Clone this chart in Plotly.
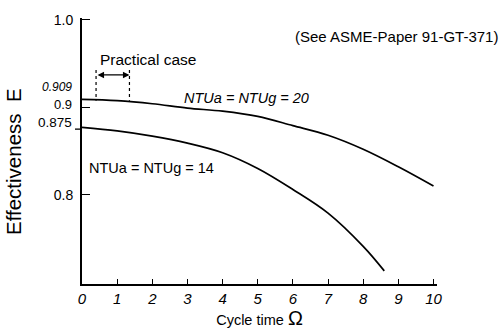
import plotly.graph_objects as go

# Data
cycle_time = [0, 1, 2, 3, 4, 5, 6, 7, 8, 9, 10]
eff_ntu20 = [0.909, 0.9075, 0.904, 0.899, 0.8955, 0.8895, 0.879, 0.868, 0.852, 0.832, 0.810]
cycle_time_14 = [0, 1, 2, 3, 4, 5, 6, 7, 8, 8.6]
eff_ntu14 = [0.877, 0.873, 0.867, 0.859, 0.848, 0.830, 0.806, 0.779, 0.741, 0.713]
x_ticks = [0, 1, 2, 3, 4, 5, 6, 7, 8, 9, 10]
y_ticks = [0.8, 0.9, 1.0]
y_ticktext = ["0.8", "", "1.0"]
practical_case = [0.4, 1.35]

FONT = "Liberation Sans, Arial, sans-serif"

fig = go.Figure()
fig.add_trace(go.Scatter(x=cycle_time, y=eff_ntu20, mode="lines",
                         line=dict(color="black", width=1.7, shape="spline"),
                         showlegend=False, hoverinfo="skip"))
fig.add_trace(go.Scatter(x=cycle_time_14, y=eff_ntu14, mode="lines",
                         line=dict(color="black", width=1.7, shape="spline"),
                         showlegend=False, hoverinfo="skip"))

# practical case dotted lines
for xv in practical_case:
    fig.add_shape(type="line", x0=xv, x1=xv, y0=0.9426, y1=0.9075,
                  line=dict(color="black", width=1.2, dash="dot"))
fig.add_annotation(x=practical_case[1], y=0.937, ax=practical_case[0], ay=0.937,
                   xref="x", yref="y", axref="x", ayref="y", text="",
                   showarrow=True, arrowhead=2, arrowside="end+start",
                   arrowsize=1, arrowwidth=1.3, arrowcolor="black",
                   standoff=0, startstandoff=0)

# small outside tick at 0.875
fig.add_shape(type="line", xref="paper", yref="y", xsizemode="pixel", xanchor=0,
              x0=-7, x1=0, y0=0.875, y1=0.875, line=dict(color="black", width=1.3))

ann = [
    dict(text="Practical case", px=148, py=57, size=15.5, style="normal"),
    dict(text="NTUa = NTUg = 20", px=246, py=97, size=14.5, style="italic"),
    dict(text="NTUa = NTUg = 14", px=151, py=171, size=14.5, style="normal"),
]
for a in ann:
    fig.add_annotation(x=(a["px"] - 82) / 35.1, y=0.9 + (107 - a["py"]) / 915.0,
                       xref="x", yref="y", text=a["text"], showarrow=False,
                       font=dict(family=FONT, size=a["size"], color="black", style=a["style"]))

# reference note, right aligned near the figure edge
fig.add_annotation(x=1, y=0.9 + (107 - 33) / 915.0, xref="paper", yref="y",
                   text="(See ASME-Paper 91-GT-371)", showarrow=False,
                   xanchor="right", xshift=63,
                   font=dict(family=FONT, size=15, color="black"))

# extra y labels
extra = [("0.909", 0.909, 12, "italic", 12), ("0.9", 0.9, 2.5, "normal", 13),
         ("0.875", 0.875, 7, "normal", 13.5)]
for txt, yv, ys, st, sz in extra:
    fig.add_annotation(x=0, y=yv, xref="paper", yref="y", text=txt, showarrow=False,
                       xanchor="right", xshift=-8, yshift=ys,
                       font=dict(family=FONT, size=sz, color="black", style=st))

# y axis title
fig.add_annotation(x=0, y=0.5, xref="paper", yref="paper", text="Effectiveness  E",
                   showarrow=False, textangle=-90, xanchor="center", yanchor="middle",
                   xshift=-69, yshift=-11,
                   font=dict(family=FONT, size=20.5, color="black"))

fig.update_layout(
    width=503, height=329,
    margin=dict(l=82, r=66, t=13, b=38),
    paper_bgcolor="white", plot_bgcolor="white",
    xaxis=dict(range=[0, 10.1], tickvals=x_ticks, ticks="inside", ticklen=5,
               tickwidth=1.3, tickcolor="black", showline=True, linecolor="black",
               linewidth=1.8, showgrid=False, zeroline=False,
               tickfont=dict(family=FONT, size=15, color="black", style="italic"),
               title=dict(text="Cycle time <span style='font-size:20px'>Ω</span>",
                          font=dict(family=FONT, size=14.5, color="black"), standoff=0)),
    yaxis=dict(range=[0.698, 1.002], tickvals=y_ticks, ticktext=y_ticktext,
               ticks="inside", ticklen=8, tickwidth=1.3, tickcolor="black",
               showline=True, linecolor="black", linewidth=1.8, showgrid=False,
               zeroline=False, ticklabelstandoff=4,
               tickfont=dict(family=FONT, size=14, color="black")),
)

fig.write_html("out.html")
